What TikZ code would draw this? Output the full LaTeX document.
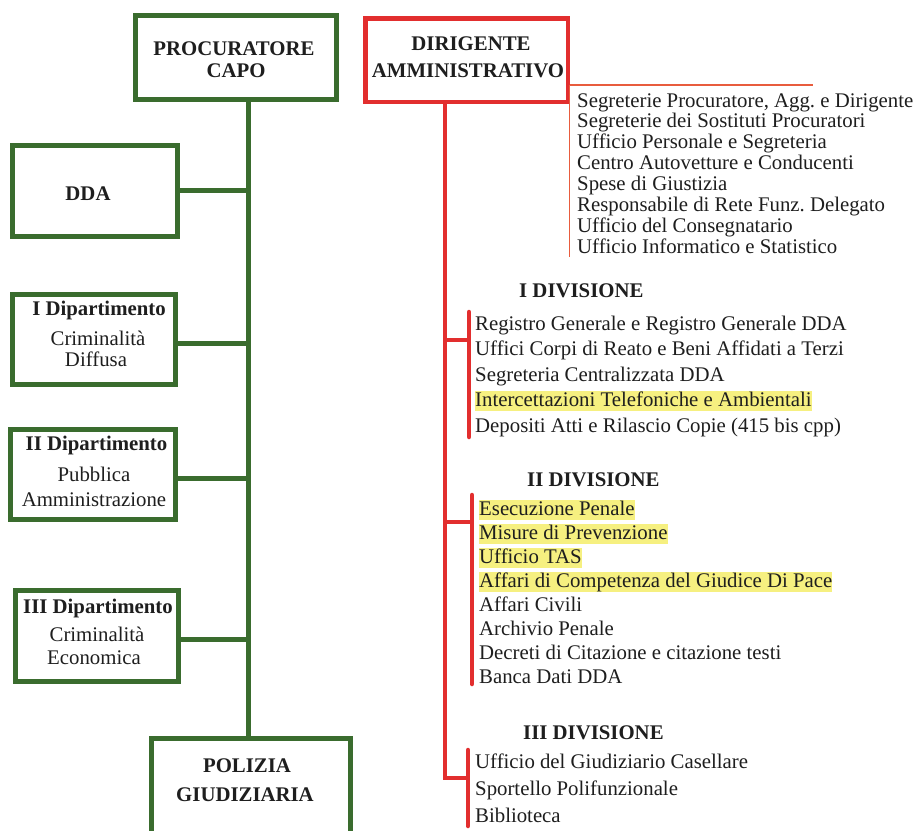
\documentclass[tikz,border=0pt]{standalone}
\usepackage{fontspec}
\setmainfont{Liberation Serif}
\frenchspacing
\definecolor{gr}{RGB}{58,108,46}
\definecolor{rd}{RGB}{226,46,46}
\definecolor{thinrd}{RGB}{232,92,62}
\definecolor{hl}{RGB}{246,240,128}
\definecolor{txt}{RGB}{30,30,30}
\begin{document}
\begin{tikzpicture}[x=1pt,y=-1pt,
  gbox/.style={draw=gr, line width=5pt, inner sep=0pt},
  rbox/.style={draw=rd, line width=4.5pt, inner sep=0pt},
  glink/.style={draw=gr, line width=5pt},
  rlink/.style={draw=rd, line width=4.5pt},
  bracket/.style={draw=rd, line width=4.5pt, line cap=round},
  thinlink/.style={draw=thinrd, line width=1.8pt},
  lbl/.style={anchor=base, inner sep=0pt, text=txt, font=\fontsize{20.8}{22}\selectfont},
  blbl/.style={lbl, font=\fontsize{20.8}{22}\selectfont\bfseries},
  item/.style={anchor=base west, inner sep=0pt, text=txt, font=\fontsize{20.8}{22}\selectfont},
  hitem/.style={item, fill=hl, text height=15.5pt, text depth=4.5pt},
  head/.style={item, font=\fontsize{20.8}{22}\selectfont\bfseries}
]
\useasboundingbox (0,0) rectangle (915,830);
\clip (0,0) rectangle (915,830);
\fill[white] (0,0) rectangle (915,830);

% ---------- left (green) column ----------
\node[gbox, minimum width=201.3pt, minimum height=83.7pt] (proc) at (236.2,57.3) {};
\node[blbl] (procA) at (234,55) {PROCURATORE};
\node[blbl] (procB) at (236,77) {CAPO};

\node[gbox, minimum width=165pt, minimum height=91pt] (dda) at (95,190.7) {};
\node[blbl] (ddaA) at (88,200) {DDA};

\node[gbox, minimum width=163.3pt, minimum height=90.6pt] (dip1) at (94.2,339.5) {};
\node[blbl] (dip1A) at (99,315) {I Dipartimento};
\node[lbl] (dip1B) at (98,345) {Criminalità};
\node[lbl] (dip1C) at (96,366.7) {Diffusa};

\node[gbox, minimum width=165pt, minimum height=90.6pt] (dip2) at (93.3,474.5) {};
\node[blbl] (dip2A) at (96.5,450) {II Dipartimento};
\node[lbl] (dip2B) at (94,481.7) {Pubblica};
\node[lbl] (dip2C) at (94,506) {Amministrazione};

\node[gbox, minimum width=163.3pt, minimum height=91.6pt] (dip3) at (96.8,636) {};
\node[blbl] (dip3A) at (98,613.3) {III Dipartimento};
\node[lbl] (dip3B) at (97,641.7) {Criminalità};
\node[lbl] (dip3C) at (94,664) {Economica};

\node[gbox, minimum width=198.4pt, minimum height=120pt] (pol) at (251,798.5) {};
\node[blbl] (polA) at (247,772.3) {POLIZIA};
\node[blbl] (polB) at (245,801.7) {GIUDIZIARIA};

\coordinate (gx) at (248.7,0);
\draw[glink] (proc.south -| gx) -- (pol.north -| gx);
\draw[glink] (dda.east) -- (dda.east -| gx);
\draw[glink] ([yshift=-3.7pt]dip1.east) -- ([yshift=-3.7pt]dip1.east -| gx);
\draw[glink] ([yshift=-3.7pt]dip2.east) -- ([yshift=-3.7pt]dip2.east -| gx);
\draw[glink] ([yshift=-3pt]dip3.east) -- ([yshift=-3pt]dip3.east -| gx);

% ---------- right (red) column ----------
\node[rbox, minimum width=202.5pt, minimum height=83.5pt] (dir) at (466.5,60) {};
\node[blbl] (dirA) at (471,50) {DIRIGENTE};
\node[blbl] (dirB) at (468,77) {AMMINISTRATIVO};

% staff offices
\coordinate (tl0) at (569.5,85);
\coordinate (tl1) at (813,85);
\coordinate (tl2) at (569.5,257);
\draw[thinlink] (dir.east |- tl0) -- (tl1);
\draw[thinlink] (tl0) -- (tl2);
\node[item] (s1) at (577,107) {Segreterie Procuratore, Agg. e Dirigente};
\node[item] (s2) at (577,127.9) {Segreterie dei Sostituti Procuratori};
\node[item] (s3) at (577,148.7) {Ufficio Personale e Segreteria};
\node[item] (s4) at (577,169.6) {Centro Autovetture e Conducenti};
\node[item] (s5) at (577,190.4) {Spese di Giustizia};
\node[item] (s6) at (577,211.3) {Responsabile di Rete Funz. Delegato};
\node[item] (s7) at (577,232.2) {Ufficio del Consegnatario};
\node[item] (s8) at (577,253) {Ufficio Informatico e Statistico};

% main red spine and division brackets
\coordinate (rx) at (444.8,0);
\coordinate (b1) at (469,340);  \coordinate (b1t) at (469,312); \coordinate (b1b) at (469,437);
\coordinate (b2) at (472,522);  \coordinate (b2t) at (472,495); \coordinate (b2b) at (472,684);
\coordinate (b3) at (468,778);  \coordinate (b3t) at (468,750); \coordinate (b3b) at (468,826);
\draw[rlink] (dir.south -| rx) -- (rx |- b3) -- (b3);
\draw[rlink] (rx |- b1) -- (b1);
\draw[rlink] (rx |- b2) -- (b2);
\draw[bracket] (b1t) -- (b1b);
\draw[bracket] (b2t) -- (b2b);
\draw[bracket] (b3t) -- (b3b);

% I DIVISIONE
\node[head] (d1) at (519,297) {I DIVISIONE};
\node[item]  (d1a) at (475,330)   {Registro Generale e Registro Generale DDA};
\node[item]  (d1b) at (475,355.5) {Uffici Corpi di Reato e Beni Affidati a Terzi};
\node[item]  (d1c) at (475,381)   {Segreteria Centralizzata DDA};
\node[hitem] (d1d) at (475,406.5) {Intercettazioni Telefoniche e Ambientali\hspace{1pt}};
\node[item]  (d1e) at (475,432)   {Depositi Atti e Rilascio Copie (415 bis cpp)};

% II DIVISIONE
\node[head] (d2) at (527,486) {II DIVISIONE};
\node[hitem] (d2a) at (479,515) {Esecuzione Penale\hspace{4pt}};
\node[hitem] (d2b) at (479,539) {Misure di Prevenzione};
\node[hitem] (d2c) at (479,563) {Ufficio TAS\hspace{1pt}};
\node[hitem] (d2d) at (479,587) {Affari di Competenza del Giudice Di Pace\hspace{5pt}};
\node[item]  (d2e) at (479,611) {Affari Civili};
\node[item]  (d2f) at (479,635) {Archivio Penale};
\node[item]  (d2g) at (479,659) {Decreti di Citazione e citazione testi};
\node[item]  (d2h) at (479,683) {Banca Dati DDA};

% III DIVISIONE
\node[head] (d3) at (523,739) {III DIVISIONE};
\node[item] (d3a) at (475,768) {Ufficio del Giudiziario Casellare};
\node[item] (d3b) at (475,795) {Sportello Polifunzionale};
\node[item] (d3c) at (475,822) {Biblioteca};
\end{tikzpicture}
\end{document}
